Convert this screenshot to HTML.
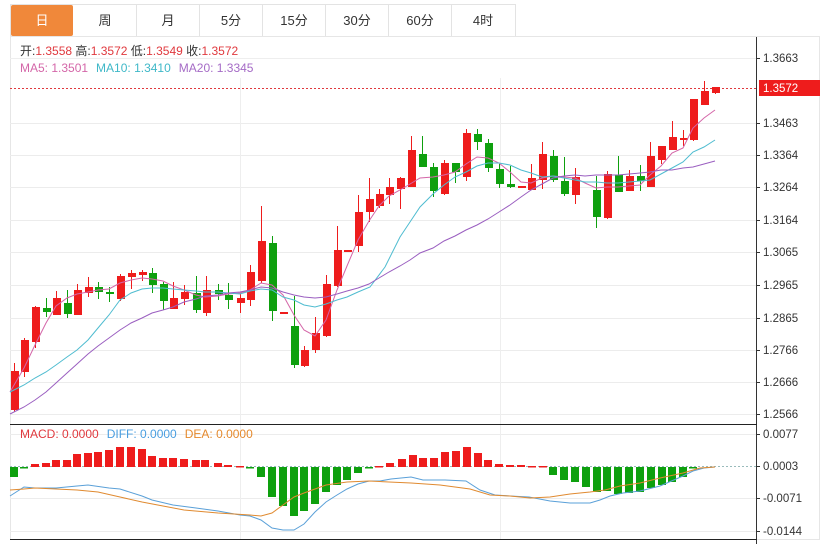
<!DOCTYPE html>
<html><head><meta charset="utf-8">
<style>
body{margin:0;background:#fff;width:838px;height:544px;overflow:hidden;font-family:"Liberation Sans","Noto Sans CJK SC",sans-serif;}
svg{position:absolute;left:0;top:0}
</style></head><body>
<svg id="s" width="838" height="544" xmlns="http://www.w3.org/2000/svg" font-family="Liberation Sans, Noto Sans CJK SC, sans-serif">
<!-- tabs -->
<rect x="10.5" y="4.5" width="505" height="32" fill="#fff" stroke="#e3e3e3"/>
<rect x="11" y="5" width="62" height="31" fill="#f0883a" rx="2"/>
<g stroke="#e3e3e3"><line x1="136.5" y1="5" x2="136.5" y2="36"/><line x1="199.5" y1="5" x2="199.5" y2="36"/><line x1="262.5" y1="5" x2="262.5" y2="36"/><line x1="325.5" y1="5" x2="325.5" y2="36"/><line x1="388.5" y1="5" x2="388.5" y2="36"/><line x1="451.5" y1="5" x2="451.5" y2="36"/></g>
<g font-size="13" text-anchor="middle" fill="#333"><text x="42" y="25" fill="#fff">日</text><text x="105" y="25">周</text><text x="168" y="25">月</text><text x="231" y="25">5分</text><text x="294" y="25">15分</text><text x="357" y="25">30分</text><text x="420" y="25">60分</text><text x="483" y="25">4时</text></g>
<!-- frame -->
<rect x="10.5" y="36.5" width="809" height="503" fill="none" stroke="#e6e6e6"/>
<line x1="10" y1="58.5" x2="756" y2="58.5" stroke="#eee"/>
<g id="grid" stroke="#ececec"></g>
<line x1="240.5" y1="78" x2="240.5" y2="540" stroke="#eee"/>
<line x1="500.5" y1="78" x2="500.5" y2="540" stroke="#eee"/>
<line x1="756.5" y1="37" x2="756.5" y2="544" stroke="#333"/>
<line x1="10" y1="424.5" x2="757" y2="424.5" stroke="#222"/>
<line x1="10" y1="539.5" x2="757" y2="539.5" stroke="#222"/>
<!-- info -->
<g font-size="12"><text x="20" y="55" fill="#333">开:<tspan fill="#e0393e">1.3558</tspan>  高:<tspan fill="#e0393e">1.3572</tspan>  低:<tspan fill="#e0393e">1.3549</tspan>  收:<tspan fill="#e0393e">1.3572</tspan></text>
<text x="20" y="72"><tspan fill="#d466a8">MA5: 1.3501</tspan><tspan fill="#3fb8c8" dx="8">MA10: 1.3410</tspan><tspan fill="#a56bc6" dx="8">MA20: 1.3345</tspan></text>
<text x="20" y="438"><tspan fill="#e0393e">MACD: 0.0000</tspan><tspan fill="#4a9ee0" dx="8">DIFF: 0.0000</tspan><tspan fill="#e58a2e" dx="8">DEA: 0.0000</tspan></text></g>
<g id="ax" font-size="11.5" fill="#333"></g>
<line x1="10" y1="88.5" x2="756" y2="88.5" stroke="#e0393e" stroke-dasharray="2,2"/>
<rect x="759" y="80" width="61" height="16" fill="#ee1c1c"/>
<text x="763" y="92" font-size="11.5" fill="#fff">1.3572</text>
<line x1="10" y1="466.5" x2="756" y2="466.5" stroke="#9bb" stroke-dasharray="2,2"/>
<g id="c"></g>
</svg>
<script>
var NS="http://www.w3.org/2000/svg",s=document.getElementById('c'),gr=document.getElementById('grid'),ax=document.getElementById('ax');
function el(p,t,a){var e=document.createElementNS(NS,t);for(var k in a)e.setAttribute(k,a[k]);p.appendChild(e);return e;}
var ticks=[[58,"1.3663"],[123,"1.3463"],[155,"1.3364"],[187,"1.3264"],[220,"1.3164"],[252,"1.3065"],[285,"1.2965"],[318,"1.2865"],[350,"1.2766"],[382,"1.2666"],[414,"1.2566"],[434,"0.0077"],[466,"0.0003"],[498,"-0.0071"],[531,"-0.0144"]];
ticks.forEach(function(t){if(t[0]!=58&&t[0]!=466)el(gr,'line',{x1:10,x2:756,y1:t[0]+.5,y2:t[0]+.5});el(ax,'line',{x1:756,x2:760,y1:t[0]+.5,y2:t[0]+.5,stroke:'#333'});var e=el(ax,'text',{x:763,y:t[0]+4});e.textContent=t[1];});
var C=[[14,371,410,363,412,'r'],[24,340,372,338,377,'r'],[35,307,342,306,348,'r'],[46,308,312,298,317,'g'],[56,298,315,291,315,'r'],[67,303,314,290,318,'g'],[77,290,315,284,315,'r'],[88,287,293,277,297,'r'],[98,287,292,282,299,'g'],[109,292,294,287,302,'g'],[120,276,299,274,301,'r'],[131,273,277,270,289,'r'],[142,272,275,270,281,'r'],[152,273,285,268,293,'g'],[163,284,301,282,310,'g'],[173,298,309,282,309,'r'],[184,292,299,285,305,'r'],[196,293,310,276,313,'g'],[206,290,313,276,316,'r'],[218,290,294,284,300,'g'],[228,295,300,283,309,'g'],[240,298,303,293,313,'r'],[250,272,300,265,306,'r'],[261,241,281,206,283,'r'],[272,243,311,236,321,'g'],[283,312,314,312,314,'r'],[294,326,365,296,368,'g'],[304,350,366,346,367,'r'],[315,333,350,317,353,'r'],[326,284,336,275,337,'r'],[337,250,286,226,287,'r'],[347,250,252,250,252,'r'],[358,212,246,195,252,'r'],[369,199,212,178,222,'r'],[379,194,206,189,208,'r'],[389,187,195,178,204,'r'],[400,178,189,177,209,'r'],[411,150,187,136,187,'r'],[422,154,167,136,167,'g'],[433,167,191,163,197,'g'],[444,163,194,160,195,'r'],[455,163,172,163,183,'g'],[466,133,177,129,181,'r'],[477,134,142,129,150,'g'],[488,143,168,139,172,'g'],[499,169,184,164,188,'g'],[510,184,187,166,188,'g'],[521,186,188,186,188,'r'],[531,178,190,164,190,'r'],[542,154,180,142,189,'r'],[553,156,180,150,182,'g'],[564,181,194,157,196,'g'],[575,177,195,168,204,'r'],[596,190,217,176,228,'g'],[607,174,218,171,219,'r'],[618,175,192,156,192,'g'],[629,176,191,170,191,'r'],[640,176,181,165,191,'g'],[650,156,187,142,187,'r'],[661,146,160,146,164,'r'],[672,137,150,121,150,'r'],[683,138,140,130,146,'r'],[693,99,140,99,141,'r'],[704,91,105,81,105,'r'],[715,87,93,87,94,'r']];
function line(pts,col){el(s,'polyline',{points:pts.map(function(p){return p.join(',')}).join(' '),fill:'none',stroke:col,'stroke-width':1});}
var MA5=[[10,392],[24,368],[35,345],[46,323],[56,306],[67,298],[77,294],[88,292],[98,290],[109,289],[120,283],[131,280],[142,278],[152,279],[163,281],[173,286],[184,290],[196,295],[205,297],[218,296],[228,294],[240,293],[250,290],[261,283],[272,285],[283,295],[294,315],[304,330],[315,336],[326,320],[337,290],[347,266],[358,240],[369,221],[379,206],[389,196],[400,190],[410,184],[420,178],[433,177],[444,175],[455,172],[466,164],[477,157],[488,158],[499,163],[510,172],[521,182],[531,183],[542,178],[553,176],[564,177],[575,178],[585,183],[596,188],[607,187],[618,187],[629,186],[640,185],[650,175],[661,166],[672,153],[683,148],[693,128],[704,118],[715,110]];
var MA10=[[10,392],[24,385],[35,378],[46,372],[56,365],[67,357],[77,350],[88,340],[98,328],[109,315],[120,300],[131,293],[142,289],[152,288],[163,288],[173,289],[184,290],[196,291],[205,292],[218,292],[228,293],[240,294],[250,291],[261,289],[272,290],[283,297],[294,300],[304,305],[315,307],[326,304],[337,300],[347,297],[358,292],[370,287],[385,267],[400,237],[410,222],[420,207],[433,194],[444,185],[455,177],[466,172],[477,166],[488,163],[499,163],[510,165],[521,170],[531,173],[542,177],[553,176],[564,178],[575,180],[585,182],[596,182],[607,183],[618,183],[629,182],[640,181],[650,180],[661,174],[672,168],[683,162],[693,152],[704,147],[715,140]];
var MA20=[[10,414],[24,407],[35,400],[46,392],[56,383],[67,373],[77,364],[88,354],[98,346],[109,338],[120,330],[131,323],[142,318],[152,313],[163,310],[173,307],[184,302],[196,299],[205,296],[218,295],[228,293],[240,292],[250,290],[261,287],[272,288],[283,292],[294,295],[304,297],[315,298],[326,297],[337,294],[347,291],[358,288],[369,284],[379,278],[389,272],[400,266],[410,260],[420,253],[433,248],[444,241],[455,236],[466,230],[477,225],[488,219],[499,212],[510,205],[521,197],[531,190],[542,184],[553,178],[564,176],[575,175],[585,176],[596,175],[607,175],[618,175],[629,174],[640,173],[650,172],[661,170],[672,170],[683,168],[693,167],[704,164],[715,161]];
C.forEach(function(c){var col=c[5]=='r'?'#ee1c1c':'#0ea00e';el(s,'line',{x1:c[0]+.5,x2:c[0]+.5,y1:c[3],y2:c[4],stroke:col});el(s,'rect',{x:c[0]-3,y:c[1],width:8,height:Math.max(1.5,c[2]-c[1]),fill:col});});
line(MA5,'#d466a8');line(MA10,'#4fbcd0');line(MA20,'#9a5ec0');
var H=[[14,477],[24,468],[35,464],[46,463],[56,460],[67,460],[77,454],[88,453],[98,452],[109,450],[120,447],[131,447],[142,449],[152,456],[163,458],[173,458],[184,459],[196,460],[205,460],[218,463],[228,465],[240,466],[250,468],[261,477],[272,497],[283,506],[294,516],[304,511],[315,504],[326,492],[337,485],[347,480],[358,473],[369,468],[379,466],[390,463],[402,459],[413,455],[423,458],[434,458],[445,452],[456,451],[467,447],[478,453],[488,460],[499,464],[510,465],[521,465],[532,466],[543,466],[553,475],[564,480],[575,482],[586,487],[597,492],[607,491],[618,494],[629,493],[640,492],[651,488],[662,485],[672,482],[683,477],[693,468]];
H.forEach(function(h){var neg=h[1]>467;var col=neg?'#0ea00e':'#ee1c1c';var y=neg?467:h[1],ht=Math.max(1.5,Math.abs(h[1]-467));el(s,'rect',{x:h[0]-4,y:y,width:8,height:ht,fill:col});});
line([[10,496],[24,487],[35,488],[56,488],[77,486],[88,485],[109,488],[120,489],[142,496],[152,500],[173,505],[196,508],[218,511],[240,515],[250,516],[261,520],[272,528],[283,530],[294,530],[304,524],[315,512],[326,502],[337,495],[347,489],[358,484],[369,481],[380,481],[391,479],[411,477],[423,480],[445,480],[466,481],[480,490],[495,495],[510,496],[529,497],[550,501],[570,503],[590,503],[600,500],[610,496],[623,493],[640,491],[660,486],[683,476],[693,471],[704,468],[715,467]],'#5aa0d8');
line([[10,490],[24,489],[35,488],[56,489],[77,490],[98,492],[120,497],[142,502],[163,506],[184,510],[218,513],[250,515],[261,516],[272,513],[283,505],[294,497],[304,493],[326,485],[347,482],[369,481],[389,482],[411,483],[440,485],[470,489],[490,495],[510,496],[530,498],[550,497],[570,494],[590,492],[605,490],[620,486],[640,483],[660,478],[683,473],[700,468],[715,467]],'#e08a30');
</script>
</body></html>
